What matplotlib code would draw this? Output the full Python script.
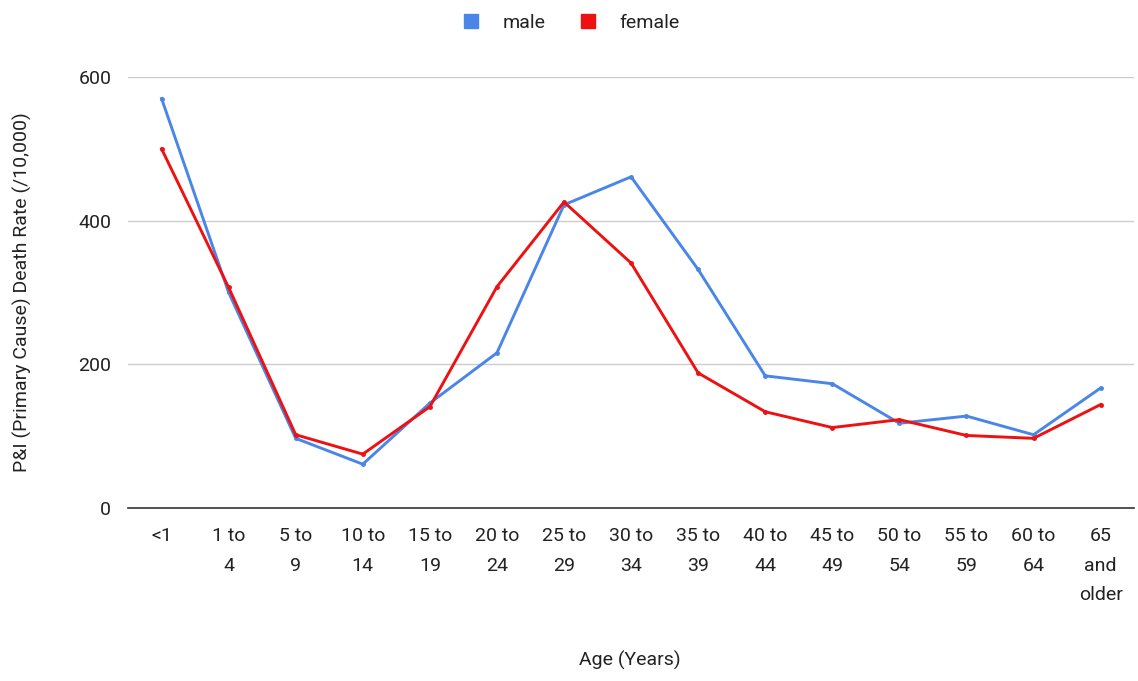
import matplotlib.pyplot as plt
from matplotlib.lines import Line2D

plt.rcParams['font.family'] = ['Roboto', 'DejaVu Sans']

age_groups = ["<1", "1 to\n4", "5 to\n9", "10 to\n14", "15 to\n19", "20 to\n24",
              "25 to\n29", "30 to\n34", "35 to\n39", "40 to\n44", "45 to\n49",
              "50 to\n54", "55 to\n59", "60 to\n64", "65\nand\nolder"]
male = [570, 300, 97, 61, 146, 216, 422, 461, 332, 184, 173, 118, 128, 102, 167]
female = [500, 307, 102, 75, 141, 308, 426, 341, 188, 134, 112, 123, 101, 97, 144]
y_ticks = [0, 200, 400, 600]

male_color = '#4a86e8'
female_color = '#ee1111'
text_color = '#222222'

fig = plt.figure(figsize=(11.38, 6.81), dpi=100)
ax = fig.add_axes([0.1125, 0.254, 0.8841, 0.633])

x = range(len(age_groups))
ax.plot(x, male, color=male_color, linewidth=2.1, marker='o', markersize=2.5,
        solid_joinstyle='round', zorder=3)
ax.plot(x, female, color=female_color, linewidth=2.1, marker='o', markersize=2.5,
        solid_joinstyle='round', zorder=4)

ax.set_xlim(-0.5, len(age_groups) - 0.5)
ax.set_ylim(0, 600)
ax.set_yticks(y_ticks)
ax.set_xticks(list(x))
ax.set_xticklabels(age_groups, fontsize=14, color=text_color, linespacing=1.8,
                   va='top')
ax.tick_params(axis='y', labelsize=14, labelcolor=text_color, length=0, pad=12)
ax.tick_params(axis='x', length=0, pad=14)

ax.grid(axis='y', color='#cccccc', linewidth=1)
ax.set_axisbelow(True)
for side in ['top', 'right', 'left']:
    ax.spines[side].set_visible(False)
ax.spines['bottom'].set_color('#333333')
ax.spines['bottom'].set_linewidth(1.2)
ax.spines['bottom'].set_zorder(5)

ax.set_ylabel('P&I (Primary Cause) Death Rate (/10,000)', fontsize=14,
              color=text_color)
ax.yaxis.set_label_coords(-0.095, 0.5)
fig.text(0.553, 0.03, 'Age (Years)', fontsize=14, color=text_color,
         ha='center', va='center')

handles = [Line2D([], [], color=male_color, marker='s', linestyle='none', markersize=10),
           Line2D([], [], color=female_color, marker='s', linestyle='none', markersize=10)]
fig.legend(handles, ['male', 'female'], loc='center', bbox_to_anchor=(0.497, 0.966),
           ncol=2, frameon=False, fontsize=14, handletextpad=0.6,
           columnspacing=1.2, labelcolor=text_color)

fig.savefig('out.png', dpi=100, facecolor='white')
